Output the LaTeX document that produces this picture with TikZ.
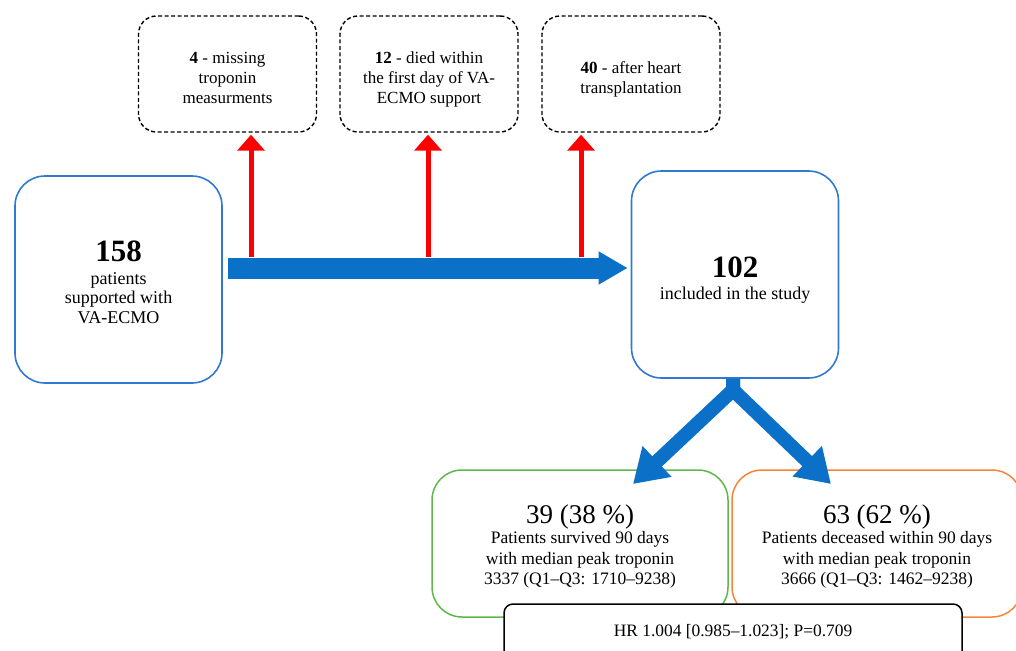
\documentclass[tikz,border=0pt]{standalone}
\usepackage{fontspec}
\setmainfont{Liberation Serif}
\usetikzlibrary{arrows.meta}
\definecolor{boxblue}{HTML}{3079D2}
\definecolor{arrblue}{HTML}{0A70C8}
\definecolor{grn}{HTML}{5DB84B}
\definecolor{org}{HTML}{F6843A}
\newcommand{\lowtext}[2]{\raisebox{0pt}[\dimexpr\height+#1\relax][\depth]{\begin{tabular}{@{}c@{}}#2\end{tabular}}}
\begin{document}
\begin{tikzpicture}[x=1pt,y=-1pt,
  bluebox/.style={draw=boxblue,line width=1.6pt,rounded corners=30pt,minimum width=207pt,minimum height=207pt,align=center,inner sep=0pt,fill=white,font=\fontsize{18}{19.5}\selectfont},
  dashbox/.style={draw=black,line width=1.4pt,dash pattern=on 4pt off 2.5pt,rounded corners=18pt,minimum width=178pt,minimum height=116pt,align=center,inner sep=0pt,font=\fontsize{17}{20}\selectfont},
  resbox/.style={line width=1.5pt,rounded corners=30pt,minimum height=147pt,align=center,inner sep=0pt,font=\fontsize{17.5}{20.5}\selectfont},
  hrbox/.style={draw=black,line width=1.5pt,rounded corners=9pt,fill=white,minimum width=458pt,minimum height=56pt,inner sep=0pt,font=\fontsize{17.4}{20}\selectfont},
  redarr/.style={draw=red,line width=5pt,-{Triangle[width=27pt,length=16pt]}},
  bigarr/.style={draw=arrblue,line width=21pt,-{Triangle[width=31pt,length=29pt]}},
  varr/.style={draw=arrblue,line width=14pt,line join=miter,-{Triangle[width=40pt,length=33pt]}}
]
\useasboundingbox (0,0) rectangle (1016,650);
\clip (0,0) rectangle (1016,650);

% top dashed boxes
\node[dashbox] (t1) at (227.5,74) {\lowtext{12pt}{\textbf{4} - missing\\troponin\\measurments}};
\node[dashbox] (t2) at (429,74) {\lowtext{12pt}{\textbf{12} - died within\\the first day of VA-\\ECMO support}};
\node[dashbox] (t3) at (631,74) {\lowtext{12pt}{\textbf{40} - after heart\\transplantation}};

% main boxes
\node[bluebox] (a) at (118.5,279.5) {\lowtext{11pt}{{\fontsize{31}{31}\selectfont\bfseries 158}\\[3.5pt]
  patients\\supported with\\VA-ECMO}};
\node[bluebox] (b) at (735,274.5) {\lowtext{14pt}{{\fontsize{31}{31}\selectfont\bfseries 102}\\[2.5pt]
  included in the study}};

% red exclusion arrows
\coordinate (r1) at (251,257);
\coordinate (r2) at (428,257);
\coordinate (r3) at (581,257);
\draw[redarr,shorten >=2pt] (r1) -- (r1 |- t1.south);
\draw[redarr,shorten >=2pt] (r2) -- (r2 |- t2.south);
\draw[redarr,shorten >=2pt] (r3) -- (r3 |- t3.south);

% main arrow
\coordinate (hs) at (228,268);
\draw[bigarr,shorten >=3pt] (hs) -- (hs -| b.west);

% result boxes
\node[resbox,draw=grn,minimum width=296pt] (s) at (580,543.5)
  {\lowtext{8pt}{{\fontsize{27}{28}\selectfont 39 (38 \%)}\\Patients survived 90 days\\with median peak troponin\\3337 (Q1--Q3: 1710--9238)}};
\node[resbox,draw=org,minimum width=290pt] (d) at (877,543.5)
  {\lowtext{8pt}{{\fontsize{27}{28}\selectfont 63 (62 \%)}\\Patients deceased within 90 days\\with median peak troponin\\3666 (Q1--Q3: 1462--9238)}};

% split arrows
\coordinate (vj) at (733,390);
\coordinate (tl) at (633,484);
\coordinate (tr) at (831,484);
\draw[varr] (vj |- b.south) -- (vj) -- (tl);
\draw[varr] (vj |- b.south) -- (vj) -- (tr);

% HR box
\node[hrbox] (hr) at (733,632) {HR 1.004 [0.985--1.023]; P=0.709};
\end{tikzpicture}
\end{document}
